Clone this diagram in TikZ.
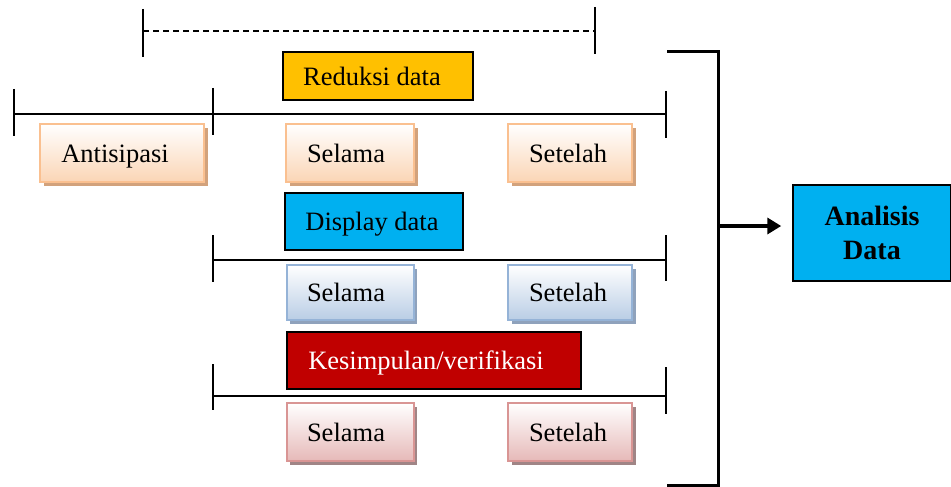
\documentclass[tikz,border=0pt]{standalone}
\usepackage{fontspec}
\setmainfont{Liberation Serif}
\usetikzlibrary{shadows,arrows.meta}
\definecolor{orgA}{HTML}{FFC000}
\definecolor{cyanA}{HTML}{00B0F0}
\definecolor{redA}{HTML}{C00000}
\definecolor{pchB}{HTML}{FAC090}
\definecolor{pchF}{HTML}{FBD5B5}
\definecolor{pchS}{HTML}{D2A27C}
\definecolor{bluB}{HTML}{95B3D7}
\definecolor{bluF}{HTML}{B9CDE5}
\definecolor{bluS}{HTML}{8FA2BC}
\definecolor{rosB}{HTML}{D99594}
\definecolor{rosF}{HTML}{E6B9B8}
\definecolor{rosS}{HTML}{A08586}
\begin{document}
\begin{tikzpicture}[x=1pt,y=-1pt,
  txt/.style={font=\fontsize{26.5}{30}\selectfont,text height=18pt,text depth=0pt},
  lft/.style={execute at begin node={\hspace*{-#1}}},
  hbox/.style={txt,draw=black,line width=1.5pt,inner sep=0pt,anchor=center},
  gbox/.style={txt,line width=2pt,inner sep=0pt,anchor=center,
     minimum height=58pt, top color=white},
  pch/.style={gbox,draw=pchB,bottom color=pchF,
     drop shadow={shadow xshift=3.5pt,shadow yshift=-3.5pt,fill=pchS,opacity=1}},
  blu/.style={gbox,draw=bluB,bottom color=bluF,
     drop shadow={shadow xshift=3.5pt,shadow yshift=-3.5pt,fill=bluS,opacity=1}},
  ros/.style={gbox,draw=rosB,bottom color=rosF,
     drop shadow={shadow xshift=3.5pt,shadow yshift=-3.5pt,fill=rosS,opacity=1}},
  tl/.style={line width=1.6pt},
  brk/.style={line width=3pt},
]
\useasboundingbox (0,0) rectangle (951,487);

% dashed span
\coordinate (d1) at (143,31); \coordinate (d2) at (595,31);
\draw[tl,dash pattern=on 6pt off 4pt] (d1) -- (d2);
\draw[tl] (143,9) -- (143,57);
\draw[tl] (595,7) -- (595,54);

% timeline 1
\coordinate (t1a) at (14,114); \coordinate (t1b) at (666,114);
\draw[tl] (t1a) -- (t1b);
\draw[tl] (14,89) -- (14,136);
\draw[tl] (213,88) -- (213,135);
\draw[tl] (666,91) -- (666,138);

\node[hbox,fill=orgA,minimum width=190pt,minimum height=48pt,lft=12pt] (red) at (378,76) {Reduksi data};
\node[pch,minimum width=164pt,lft=14pt] (ant) at (122,153) {Antisipasi};
\node[pch,minimum width=128pt,lft=8pt] (s1) at (350,153) {Selama};
\node[pch,minimum width=124pt,lft=4pt] (e1) at (570,153) {Setelah};

% timeline 2
\node[hbox,fill=cyanA,minimum width=178pt,minimum height=57pt,lft=4pt] (dis) at (374,221.5) {Display data};
\coordinate (t2a) at (213,260); \coordinate (t2b) at (666,260);
\draw[tl] (t2a) -- (t2b);
\draw[tl] (213,235) -- (213,282);
\draw[tl] (666,235) -- (666,281);
\node[blu,minimum width=127pt,minimum height=55pt,lft=8pt] (s2) at (350,292.5) {Selama};
\node[blu,minimum width=124pt,minimum height=55pt,lft=4pt] (e2) at (570,292.5) {Setelah};

% timeline 3
\node[hbox,fill=redA,text=white,minimum width=294pt,minimum height=57pt,lft=16pt] (kes) at (434,360.5) {Kesimpulan/verifikasi};
\coordinate (t3a) at (213,396); \coordinate (t3b) at (666,396);
\draw[tl] (t3a) -- (t3b);
\draw[tl] (213,364) -- (213,410);
\draw[tl] (666,367) -- (666,414);
\node[ros,minimum width=127pt,lft=8pt] (s3) at (350,432) {Selama};
\node[ros,minimum width=124pt,lft=4pt] (e3) at (570,432) {Setelah};

% bracket and arrow
\coordinate (bt) at (667,52); \coordinate (bb) at (667,485);
\coordinate (bm) at (718,226);
\draw[brk,line join=miter] (bt) -- (718,52) -- (718,485) -- (bb);
\node[draw=black,line width=1.5pt,inner sep=0pt,fill=cyanA,minimum width=158pt,minimum height=96pt,align=center,
      font=\fontsize{28}{34}\selectfont\bfseries] (ana) at (872,233) {Analisis\\Data};
\draw[line width=4pt,-{Triangle[length=14pt,width=16pt]},shorten >=11pt] (bm) -- (ana.west |- bm);
\end{tikzpicture}
\end{document}
